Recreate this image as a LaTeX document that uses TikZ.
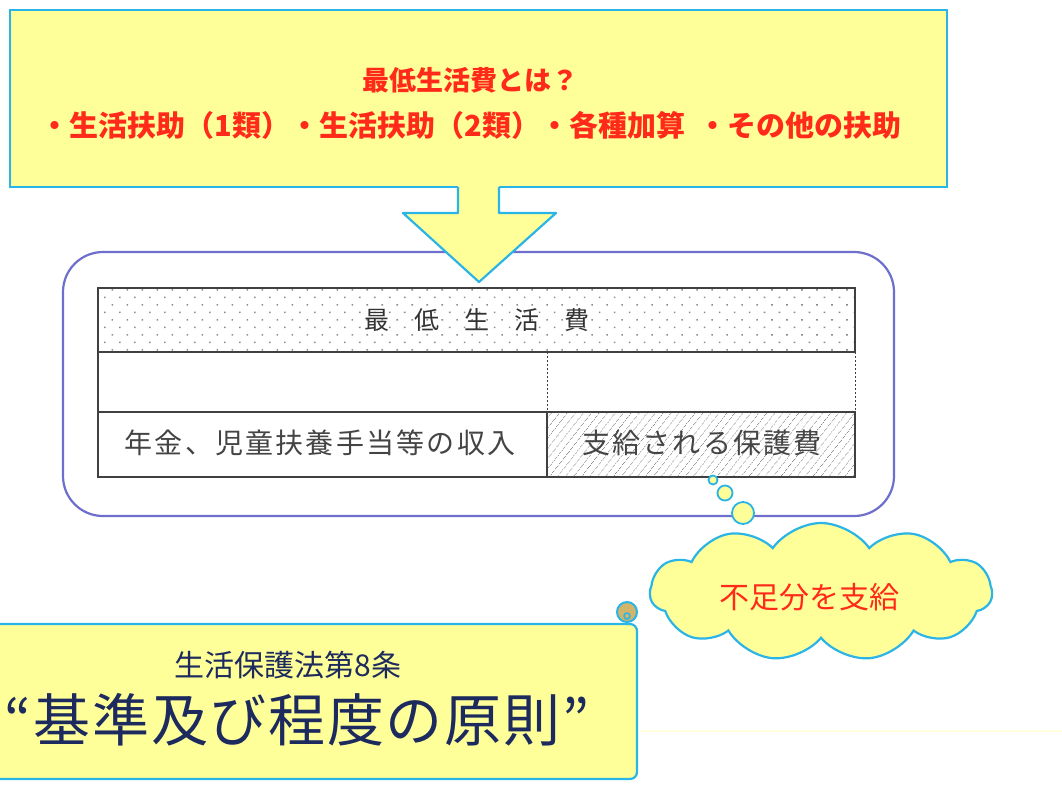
\documentclass[tikz,border=0pt]{standalone}
\usepackage{fontspec}
\usetikzlibrary{shapes.symbols,patterns.meta}
\newfontfamily\jp{Noto Sans CJK JP}
\definecolor{notefill}{HTML}{FFFF99}
\definecolor{noteline}{HTML}{2BB4E6}
\definecolor{notered}{HTML}{FF2A1A}
\definecolor{frameline}{HTML}{6E6ECC}
\definecolor{lawblue}{HTML}{1C2A5E}
\definecolor{celltext}{HTML}{444444}
\definecolor{curlfill}{HTML}{D2B56A}
\tikzset{
	note/.style={fill=notefill, draw=noteline, line width=2.2},
	cell/.style={draw=black!75, line width=1.3},
	redtext/.style={text=notered, font=\jp\bfseries},
	celltxt/.style={text=celltext, font=\jp\fontsize{28}{30}\selectfont\addfontfeature{LetterSpace=8}},
}

\begin{document}
\begin{tikzpicture}[x=1pt, y=-1pt]
			%%%%% START %%%%%
			\useasboundingbox (0, 0) rectangle (1062, 807);
			
			% top box
			\draw[note] (10, 10) rectangle (947, 187);
			\node[redtext, font=\jp\bfseries\fontsize{27}{29}\selectfont] (ask) at (470, 80) {最低生活費とは？};
			\node[redtext, font=\jp\bfseries\fontsize{29}{31}\selectfont] (kinds) at (471, 125) {・生活扶助（1類）・生活扶助（2類）・各種加算\ \ ・その他の扶助};
			
			% frame round the table
			\draw[frameline, line width=2.2, rounded corners=40] (63, 252) rectangle (894, 516);
			
			% arrow
			\fill[notefill] (458, 185) -- (458, 213) -- (403, 213) -- (479, 282) -- (556, 213) -- (499, 213) -- (499, 185) -- cycle;
			\draw[noteline, line width=2.2, line join=round] (458, 187) -- (458, 213) -- (403, 213) -- (479, 282) -- (556, 213) -- (499, 213) -- (499, 187);
			
			% table
			\fill[pattern={Dots[distance=10.6pt, angle=45, radius=1.1pt]}, pattern color=black!45] (98, 288) rectangle (855, 352);
			\fill[pattern={Lines[angle=52, distance=6.5pt, line width=0.8pt]}, pattern color=black!45] (547, 412) rectangle (855, 477);
			\draw[cell] (98, 288) rectangle (855, 352);
			\draw[cell] (98, 352) -- (98, 477) -- (855, 477) -- (855, 412) -- (98, 412);
			\draw[cell] (547, 412) -- (547, 477);
			\draw[cell, line width=1, dash pattern=on 2pt off 2pt] (547, 352) -- (547, 412);
			\draw[cell, line width=1, dash pattern=on 2pt off 2pt] (855, 352) -- (855, 412);
			\node[text=black!80, font=\jp\fontsize{25}{27}\selectfont] (minimum) at (477, 320) {最　低　生　活　費};
			\node[celltxt] (income) at (320, 443) {年金、児童扶養手当等の収入};
			\node[celltxt] (paid) at (702, 443) {支給される保護費};
			
			% thought bubbles
			\draw[note, line width=1.8] (713, 480) circle (4.5);
			\draw[note, line width=1.8] (725, 493) circle (7.5);
			\draw[note, line width=1.8] (743, 513) circle (11);
			\node[cloud, cloud puffs=11, cloud puff arc=110, aspect=2.5, note, minimum width=342, minimum height=138, inner sep=0pt] (cloud) at (821, 592) {};
			\node[redtext, font=\jp\fontsize{30}{32}\selectfont] (lack) at (809, 597) {不足分を支給};
			
			% faint rule
			\draw[color=notefill!35, line width=2] (640, 731) -- (1062, 731);
			
			% scroll
			\draw[note, rounded corners=7] (-5, 624) -- (637, 624) -- (637, 779) -- (-5, 779);
			\draw[note, fill=curlfill, line width=2] (627, 612) circle (10);
			\draw[noteline, line width=1.5] (627, 616) circle (3);
			\node[text=lawblue, font=\jp\fontsize{30}{32}\selectfont] (law) at (288, 665) {生活保護法第8条};
			\node[text=lawblue, font=\jp\fontsize{57}{60}\selectfont\addfontfeature{LetterSpace=3}] (rule) at (297, 720) {“基準及び程度の原則”};
			
			%%%%% END %%%%%
		\end{tikzpicture}
\end{document}
